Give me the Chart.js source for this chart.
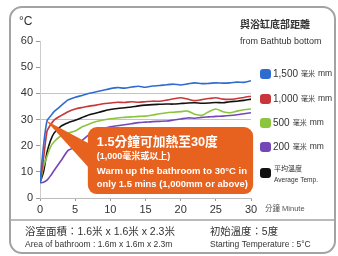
<!DOCTYPE html>
<html>
<head>
<meta charset="utf-8">
<script src="https://cdn.jsdelivr.net/npm/chart.js@4.4.1/dist/chart.umd.min.js"></script>
<style>
  html, body { margin: 0; padding: 0; background: #fff; }
  canvas { display: block; }
</style>
</head>
<body>
<canvas id="chartTemp" width="338" height="256"></canvas>
<script>
// minutes after switching on
const minutes = [0, 0.5, 1, 1.5, 2, 3, 4, 5, 6, 7, 8, 9, 10, 11, 12, 13, 14, 15,
  16, 17, 18, 19, 20, 21, 22, 23, 24, 25, 26, 27, 28, 29, 30];

// temperature (°C) by distance from bathtub bottom
const temp1500 = [5.8, 20, 29.5, 31.3, 33, 35.3, 37.5, 38.5, 39.2, 40, 40.6, 41.2, 41.8, 42.2, 42, 42.4, 42.7, 42.3,
  42.8, 43, 43.3, 43.5, 43.2, 43.6, 44, 43.7, 43.8, 44, 43.9, 44, 44.3, 44.2, 44.8];
const temp1000 = [5.8, 15, 25.5, 28, 29.8, 31.5, 33, 34, 34.6, 35.1, 35.5, 36, 36.3, 36.6, 36.5, 36.8, 36.6, 36.8,
  37, 37, 37.4, 37.9, 38.3, 37.8, 37.2, 37.6, 38, 38.3, 37.8, 37.7, 38, 38.4, 38.9];
const temp500 = [5.8, 12, 16, 19.5, 21.5, 23.8, 24.8, 25.6, 27.2, 28.3, 29.2, 29.8, 30.3, 30.6, 30.8, 31, 31.2, 31.3,
  31.7, 32.2, 32.6, 32.8, 33, 33.2, 32, 31.6, 33, 34, 33, 32.6, 33.2, 33.7, 34];
const temp200 = [5.8, 6, 6.8, 8.5, 10.5, 14.3, 18.2, 19.5, 22, 24.2, 25.6, 26.5, 27.2, 27.6, 28, 28.4, 28.8, 29,
  29.2, 29.3, 29.4, 29.8, 30.2, 30.6, 30.5, 30.8, 31, 31.2, 31.3, 31.5, 31.8, 32.2, 32.6];
const tempAvg = [5.8, 10, 17.5, 22, 24.8, 27.5, 28.8, 29.7, 30.8, 31.8, 32.5, 33.2, 33.8, 34.2, 34.5, 34.8, 35.2, 35.5,
  35.7, 35.8, 35.9, 35.9, 36.1, 36.3, 36.4, 36.2, 36.3, 36.5, 36.4, 36.8, 37, 37.3, 37.8];

const seriesNames = ["1,500", "1,000", "500", "200"];
const yTicks = [0, 10, 20, 30, 40, 50, 60];
const xTicks = [0, 5, 10, 15, 20, 25, 30];
const gridValues = [30, 40];

const LATIN = '"Liberation Sans", "Noto Sans CJK TC", sans-serif';
const colors = {
  c1500: "#2f6cd0",
  c1000: "#c9363a",
  c500: "#8cc43e",
  c200: "#7447b6",
  avg: "#111111",
  orange: "#e8621f",
  text: "#333333",
};

function pts(values) {
  return minutes.map((m, i) => ({ x: m, y: values[i] }));
}

function line(label, values, color) {
  return {
    label,
    data: pts(values),
    borderColor: color,
    backgroundColor: color,
    borderWidth: 1.6,
    pointRadius: 0,
    tension: 0.25,
  };
}

// frame, legend, callout and footer
const decorPlugin = {
  id: "decor",
  beforeDraw(chart) {
    const { ctx } = chart;
    ctx.save();
    ctx.strokeStyle = "#a3a3a3";
    ctx.lineWidth = 2;
    ctx.beginPath();
    ctx.roundRect(10, 7, 325, 246, 12);
    ctx.stroke();
    ctx.lineWidth = 1.5;
    ctx.beginPath();
    ctx.moveTo(10, 220);
    ctx.lineTo(335, 220);
    ctx.stroke();
    ctx.restore();
  },
  afterDatasetsDraw(chart) {
    const { ctx, scales: { x, y } } = chart;
    ctx.save();
    // callout pointer and box
    const tipX = x.getPixelForValue(0.85);
    const tipY = y.getPixelForValue(29.6);
    const bl = x.getPixelForValue(6.8);
    const br = x.getPixelForValue(30.3);
    const bt = y.getPixelForValue(27.1);
    const bb = y.getPixelForValue(1.5);
    ctx.fillStyle = colors.orange;
    ctx.beginPath();
    ctx.moveTo(tipX, tipY);
    ctx.lineTo(bl + 4, bt + 18);
    ctx.lineTo(bl + 4, bt + 44);
    ctx.closePath();
    ctx.fill();
    ctx.beginPath();
    ctx.roundRect(bl, bt, br - bl, bb - bt, 9);
    ctx.fill();

    ctx.fillStyle = "#ffffff";
    ctx.textBaseline = "middle";
    ctx.textAlign = "left";
    ctx.font = "bold 13px " + LATIN;
    ctx.fillText("1.5分鐘可加熱至30度", bl + 9, bt + 15, 121);
    ctx.font = "bold 9px " + LATIN;
    ctx.fillText("(1,000毫米或以上)", bl + 9, bt + 29, 79);
    ctx.font = "bold 9.5px " + LATIN;
    ctx.fillText("Warm up the bathroom to 30°C in", bl + 9, bt + 44, 151);
    ctx.fillText("only 1.5 mins (1,000mm or above)", bl + 9, bt + 57, 151);
    ctx.restore();
  },
  afterDraw(chart) {
    const { ctx } = chart;
    ctx.save();
    ctx.fillStyle = colors.text;
    ctx.textBaseline = "middle";
    ctx.textAlign = "left";

    // unit labels
    ctx.font = "12px " + LATIN;
    ctx.fillText("°C", 19, 22);
    ctx.font = "7.5px " + LATIN;
    ctx.fillStyle = "#555";
    ctx.fillText("分鐘 Minute", 265, 209, 48);

    // legend title
    ctx.fillStyle = colors.text;
    ctx.font = "bold 10px " + LATIN;
    ctx.fillText("與浴缸底部距離", 240, 25, 72);
    ctx.font = "9px " + LATIN;
    ctx.fillText("from Bathtub bottom", 240, 42, 89);

    // legend rows
    const rowsY = [74, 99, 123, 147, 173];
    chart.data.datasets.forEach((ds, i) => {
      const yy = rowsY[i];
      ctx.fillStyle = ds.borderColor;
      ctx.beginPath();
      ctx.roundRect(260, yy - 5, 11, 10, 3);
      ctx.fill();
      ctx.fillStyle = colors.text;
      if (i < seriesNames.length) {
        let xx = 273;
        ctx.font = "10px " + LATIN;
        ctx.fillText(seriesNames[i], xx, yy);
        xx += ctx.measureText(seriesNames[i]).width + 3;
        ctx.font = "7px " + LATIN;
        ctx.fillText("毫米", xx, yy);
        xx += ctx.measureText("毫米").width + 3;
        ctx.font = "8.5px " + LATIN;
        ctx.fillText("mm", xx, yy);
      } else {
        ctx.font = "7px " + LATIN;
        ctx.fillText("平均溫度", 274, yy - 4);
        ctx.fillText("Average Temp.", 274, yy + 7, 44);
      }
    });

    // footer
    ctx.font = "10.5px " + LATIN;
    ctx.fillText("浴室面積：1.6米 x 1.6米 x 2.3米", 25, 232, 153);
    ctx.fillText("初始溫度：5度", 210, 232, 68);
    ctx.font = "8.5px " + LATIN;
    ctx.fillText("Area of bathroom : 1.6m x 1.6m x 2.3m", 25, 245, 169);
    ctx.fillText("Starting Temperature : 5°C", 210, 245, 115);
    ctx.restore();
  },
};

new Chart(document.getElementById("chartTemp"), {
  type: "line",
  data: {
    datasets: [
      line("1,500 毫米 mm", temp1500, colors.c1500),
      line("1,000 毫米 mm", temp1000, colors.c1000),
      line("500 毫米 mm", temp500, colors.c500),
      line("200 毫米 mm", temp200, colors.c200),
      line("平均溫度 Average Temp.", tempAvg, colors.avg),
    ],
  },
  plugins: [decorPlugin],
  options: {
    responsive: false,
    animation: false,
    layout: { padding: { top: 41, left: 0, right: 87, bottom: 38 } },
    plugins: { legend: { display: false }, tooltip: { enabled: false } },
    scales: {
      x: {
        type: "linear",
        min: 0,
        max: 30,
        afterFit: (s) => { s.height = 20; },
        afterBuildTicks: (s) => { s.ticks = xTicks.map((v) => ({ value: v })); },
        grid: { drawOnChartArea: false, tickLength: 3, tickColor: "#999" },
        border: { color: "#bbb" },
        ticks: { padding: 2, color: colors.text, font: { family: LATIN, size: 11 } },
      },
      y: {
        min: 0,
        max: 60,
        afterFit: (s) => { s.width = 40; },
        afterBuildTicks: (s) => { s.ticks = yTicks.map((v) => ({ value: v })); },
        grid: {
          color: (c) => (gridValues.includes(c.tick && c.tick.value) ? "#c4c4c4" : "rgba(0,0,0,0)"),
          tickColor: "#999",
          tickLength: 4,
        },
        border: { color: "#ccc" },
        ticks: { padding: 3, color: colors.text, font: { family: LATIN, size: 11 } },
      },
    },
  },
});
</script>
</body>
</html>
